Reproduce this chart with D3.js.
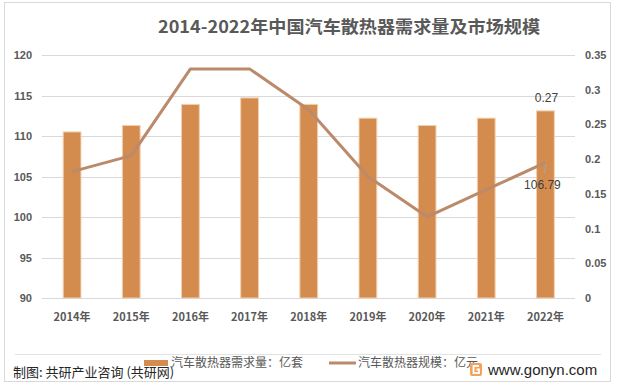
<!DOCTYPE html>
<html>
<head>
<meta charset="utf-8">
<script src="https://cdn.jsdelivr.net/npm/d3@7"></script>
<style>
  body { margin: 0; background: #fff; }
  svg { display: block; }
</style>
</head>
<body>
<svg id="chart"></svg>
<script>
const years = ["2014年", "2015年", "2016年", "2017年", "2018年", "2019年", "2020年", "2021年", "2022年"];
const demand = [110.5, 111.3, 113.9, 114.7, 113.9, 112.2, 111.3, 112.2, 113.1];
const marketSize = [0.182, 0.205, 0.33, 0.33, 0.271, 0.175, 0.117, 0.156, 0.195];
const leftTicks = [90, 95, 100, 105, 110, 115, 120];
const rightTicks = [0, 0.05, 0.1, 0.15, 0.2, 0.25, 0.3, 0.35];
const barLabel = "0.27";
const lineLabel = "106.79";

const width = 617;
const height = 388;
const font = "'Liberation Sans', Arial, 'Noto Sans CJK SC', sans-serif";
const cjk = "'Noto Sans CJK SC', 'Liberation Sans', sans-serif";

const svg = d3.select("#chart").attr("width", width).attr("height", height);

svg
  .append("rect")
  .attr("x", 4.5)
  .attr("y", 2.5)
  .attr("width", 606)
  .attr("height", 379)
  .attr("fill", "#fff")
  .attr("stroke", "#d9d9d9");

svg
  .append("text")
  .attr("x", 158)
  .attr("y", 33)
  .attr("textLength", 382)
  .attr("lengthAdjust", "spacingAndGlyphs")
  .attr("font-family", cjk)
  .attr("font-weight", "bold")
  .attr("font-size", 17)
  .attr("fill", "#595959")
  .text("2014-2022年中国汽车散热器需求量及市场规模");

const x = d3.scaleBand().domain(years).range([42.5, 575]).paddingInner(0.7).paddingOuter(0.35);
const yLeft = d3.scaleLinear().domain([90, 120]).range([298, 55]);
const yRight = d3.scaleLinear().domain([0, 0.35]).range([298, 55]);

const grid = svg.append("g");
grid
  .selectAll("line")
  .data(leftTicks)
  .join("line")
  .attr("x1", 42)
  .attr("x2", 575)
  .attr("y1", (d) => Math.round(yLeft(d)) + 0.5)
  .attr("y2", (d) => Math.round(yLeft(d)) + 0.5)
  .attr("stroke", "#d9d9d9")
  .attr("stroke-width", 1);

const leftAxis = svg
  .append("g")
  .attr("transform", "translate(37,0)")
  .call(d3.axisLeft(yLeft).tickValues(leftTicks).tickSize(0).tickPadding(5));
leftAxis.select(".domain").remove();
leftAxis
  .selectAll("text")
  .attr("font-family", font)
  .attr("font-size", 11)
  .attr("font-weight", "bold")
  .attr("fill", "#595959");

const rightAxis = svg
  .append("g")
  .attr("transform", "translate(580,0)")
  .call(
    d3
      .axisRight(yRight)
      .tickValues(rightTicks)
      .tickSize(0)
      .tickPadding(5)
      .tickFormat((d) => d3.format("~g")(d))
  );
rightAxis.select(".domain").remove();
rightAxis
  .selectAll("text")
  .attr("font-family", font)
  .attr("font-size", 11)
  .attr("font-weight", "bold")
  .attr("fill", "#595959");

const xAxis = svg
  .append("g")
  .attr("transform", "translate(0,308)")
  .call(d3.axisBottom(x).tickSize(0).tickPadding(5));
xAxis.select(".domain").remove();
xAxis
  .selectAll("text")
  .attr("font-family", cjk)
  .attr("font-size", 11)
  .attr("font-weight", "bold")
  .attr("fill", "#595959");

svg
  .append("g")
  .selectAll("rect")
  .data(demand)
  .join("rect")
  .attr("x", (d, i) => x(years[i]))
  .attr("y", (d) => yLeft(d))
  .attr("width", x.bandwidth())
  .attr("height", (d) => 298 - yLeft(d))
  .attr("fill", "#d48b4e")
  .attr("stroke", "#f1cfae")
  .attr("stroke-width", 1);

const line = d3
  .line()
  .x((d, i) => x(years[i]) + x.bandwidth() / 2)
  .y((d) => yRight(d));

svg
  .append("path")
  .attr("d", line(marketSize))
  .attr("fill", "none")
  .attr("stroke", "#bb8a6a")
  .attr("stroke-width", 3)
  .attr("stroke-linejoin", "round");

const lastX = x(years[8]) + x.bandwidth() / 2;

svg
  .append("text")
  .attr("x", lastX + 1)
  .attr("y", yLeft(demand[8]) - 9)
  .attr("text-anchor", "middle")
  .attr("font-family", font)
  .attr("font-size", 12)
  .attr("fill", "#404040")
  .text(barLabel);

svg
  .append("line")
  .attr("x1", lastX + 0.5)
  .attr("y1", yRight(marketSize[8]) + 1)
  .attr("x2", lastX - 1)
  .attr("y2", yRight(marketSize[8]) + 11)
  .attr("stroke", "#a6a6a6")
  .attr("stroke-width", 1);

svg
  .append("text")
  .attr("x", lastX - 3)
  .attr("y", yRight(marketSize[8]) + 26)
  .attr("text-anchor", "middle")
  .attr("font-family", font)
  .attr("font-size", 12)
  .attr("fill", "#404040")
  .text(lineLabel);

svg
  .append("line")
  .attr("x1", 15)
  .attr("x2", 601)
  .attr("y1", 354.5)
  .attr("y2", 354.5)
  .attr("stroke", "#e3e3e3");

svg
  .append("text")
  .attr("x", 13)
  .attr("y", 377)
  .attr("font-family", cjk)
  .attr("font-size", 13)
  .attr("fill", "#262626")
  .text("制图: 共研产业咨询 (共研网)");

const legend = svg.append("g");
legend
  .append("rect")
  .attr("x", 144)
  .attr("y", 360)
  .attr("width", 24)
  .attr("height", 6)
  .attr("fill", "#d48b4e");
legend
  .append("text")
  .attr("x", 171)
  .attr("y", 367)
  .attr("font-family", cjk)
  .attr("font-size", 12)
  .attr("fill", "#595959")
  .text("汽车散热器需求量：亿套");
legend
  .append("line")
  .attr("x1", 329)
  .attr("x2", 356)
  .attr("y1", 363)
  .attr("y2", 363)
  .attr("stroke", "#bb8a6a")
  .attr("stroke-width", 3);
legend
  .append("text")
  .attr("x", 358)
  .attr("y", 367)
  .attr("font-family", cjk)
  .attr("font-size", 12)
  .attr("fill", "#595959")
  .text("汽车散热器规模：亿元");

// logo mark drawn as shapes
const logo = svg.append("g").attr("transform", "translate(470,363)");
logo
  .append("rect")
  .attr("width", 12)
  .attr("height", 13)
  .attr("rx", 2)
  .attr("fill", "#f6a15a");
logo
  .append("path")
  .attr("d", "M 9 3 L 3.5 3 L 3.5 10 L 9 10 L 9 6.5 L 6.5 6.5")
  .attr("fill", "none")
  .attr("stroke", "#fff")
  .attr("stroke-width", 1.8);

svg
  .append("text")
  .attr("x", 488)
  .attr("y", 375)
  .attr("font-family", font)
  .attr("font-size", 15)
  .attr("fill", "#262626")
  .text("www.gonyn.com");
</script>
</body>
</html>
